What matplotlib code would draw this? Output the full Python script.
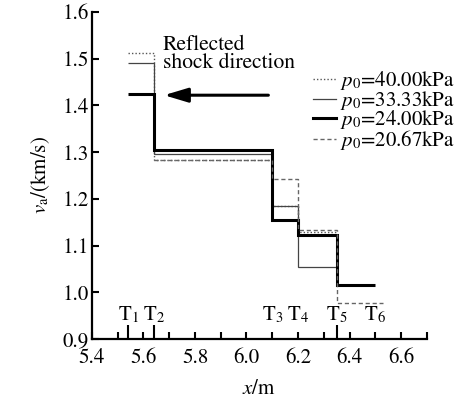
import numpy as np
from matplotlib import pyplot as plt

# gauge positions (m) and their labels
T_pos = [5.54, 5.64, 6.10, 6.20, 6.35, 6.50]
T_labels = ['T$_1$', 'T$_2$', 'T$_3$', 'T$_4$', 'T$_5$', 'T$_6$']

# reflected shock speed between gauges (km/s)
edges_40 = [5.54, 5.64, 6.10, 6.20, 6.35]
v_40 = [1.513, 1.283, 1.185, 1.130]
edges_33 = [5.54, 5.64, 6.10, 6.20, 6.35]
v_33 = [1.491, 1.295, 1.185, 1.055]
edges_24 = [5.54, 5.64, 6.10, 6.20, 6.35, 6.50]
v_24 = [1.425, 1.304, 1.155, 1.122, 1.015]
edges_20 = [5.64, 6.10, 6.20, 6.35, 6.53]
v_20 = [1.283, 1.242, 1.133, 0.976]

labels = ['$p_0$=40.00kPa', '$p_0$=33.33kPa', '$p_0$=24.00kPa', '$p_0$=20.67kPa']

x_ticks = [5.4, 5.5, 5.6, 5.7, 5.8, 5.9, 6.0, 6.1, 6.2, 6.3, 6.4, 6.5, 6.6, 6.7]
x_ticklabels = ['5.4', '', '5.6', '', '5.8', '', '6.0', '', '6.2', '', '6.4', '', '6.6', '']
y_ticks = [0.9, 1.0, 1.1, 1.2, 1.3, 1.4, 1.5, 1.6]


def main():
    plt.rcParams['font.family'] = ['STIXGeneral', 'Liberation Serif', 'DejaVu Serif']
    plt.rcParams['mathtext.fontset'] = 'stix'
    plt.rcParams['font.size'] = 15

    fig = plt.figure(figsize=(4.69, 4.03), dpi=100)
    ax = fig.add_axes([0.196, 0.159, 0.714, 0.811])

    ax.stairs(v_40, edges_40, baseline=None, color='#555555', lw=1.0,
              linestyle=(0, (1, 1.5)), label=labels[0])
    ax.stairs(v_33, edges_33, baseline=None, color='#444444', lw=0.9,
              label=labels[1])
    ax.stairs(v_24, edges_24, baseline=None, color='black', lw=2.2,
              label=labels[2])
    ax.stairs(v_20, edges_20, baseline=None, color='#666666', lw=1.0,
              linestyle=(0, (3, 2)), label=labels[3])

    # arrow and note for the reflected shock
    ax.annotate('', xy=(5.68, 1.422), xytext=(6.085, 1.422),
                arrowprops=dict(arrowstyle='-|>,head_length=0.6,head_width=0.18',
                                lw=2.2, color='black', mutation_scale=24,
                                shrinkA=0, shrinkB=0))
    ax.text(5.676, 1.550, 'Reflected\nshock direction', ha='left', va='top',
            fontsize=15.5, linespacing=0.9)

    ax.set_xlim(5.4, 6.7)
    ax.set_ylim(0.9, 1.6)
    ax.set_xticks(x_ticks)
    ax.set_xticklabels(x_ticklabels)
    ax.set_xticks(T_pos, minor=True)
    ax.set_yticks(y_ticks)
    ax.set_yticklabels(['%.1f' % v for v in y_ticks])

    for xp, lab in zip(T_pos, T_labels):
        ax.annotate(lab, xy=(xp, 0.9), xytext=(0, 10), textcoords='offset points',
                    ha='center', va='bottom', fontsize=15)

    ax.spines['top'].set_visible(False)
    ax.spines['right'].set_visible(False)
    ax.spines['left'].set_linewidth(1.6)
    ax.spines['bottom'].set_linewidth(1.6)
    ax.tick_params(which='major', direction='in', length=5, width=1.5, pad=2)
    ax.tick_params(axis='x', which='major', pad=7)
    ax.tick_params(axis='x', which='minor', direction='in', length=10, width=1.5)

    ax.set_xlabel('$x$/m', labelpad=8)
    ax.set_ylabel('$v_\\mathrm{a}$/(km/s)', labelpad=8)

    ax.legend(loc='upper right', bbox_to_anchor=(1.11, 0.85), frameon=False,
              handlelength=1.1, handletextpad=0.2, labelspacing=-0.17,
              fontsize=15, borderaxespad=0)

    plt.savefig('out.png', dpi=100)
    plt.close()


if __name__ == '__main__':
    main()
